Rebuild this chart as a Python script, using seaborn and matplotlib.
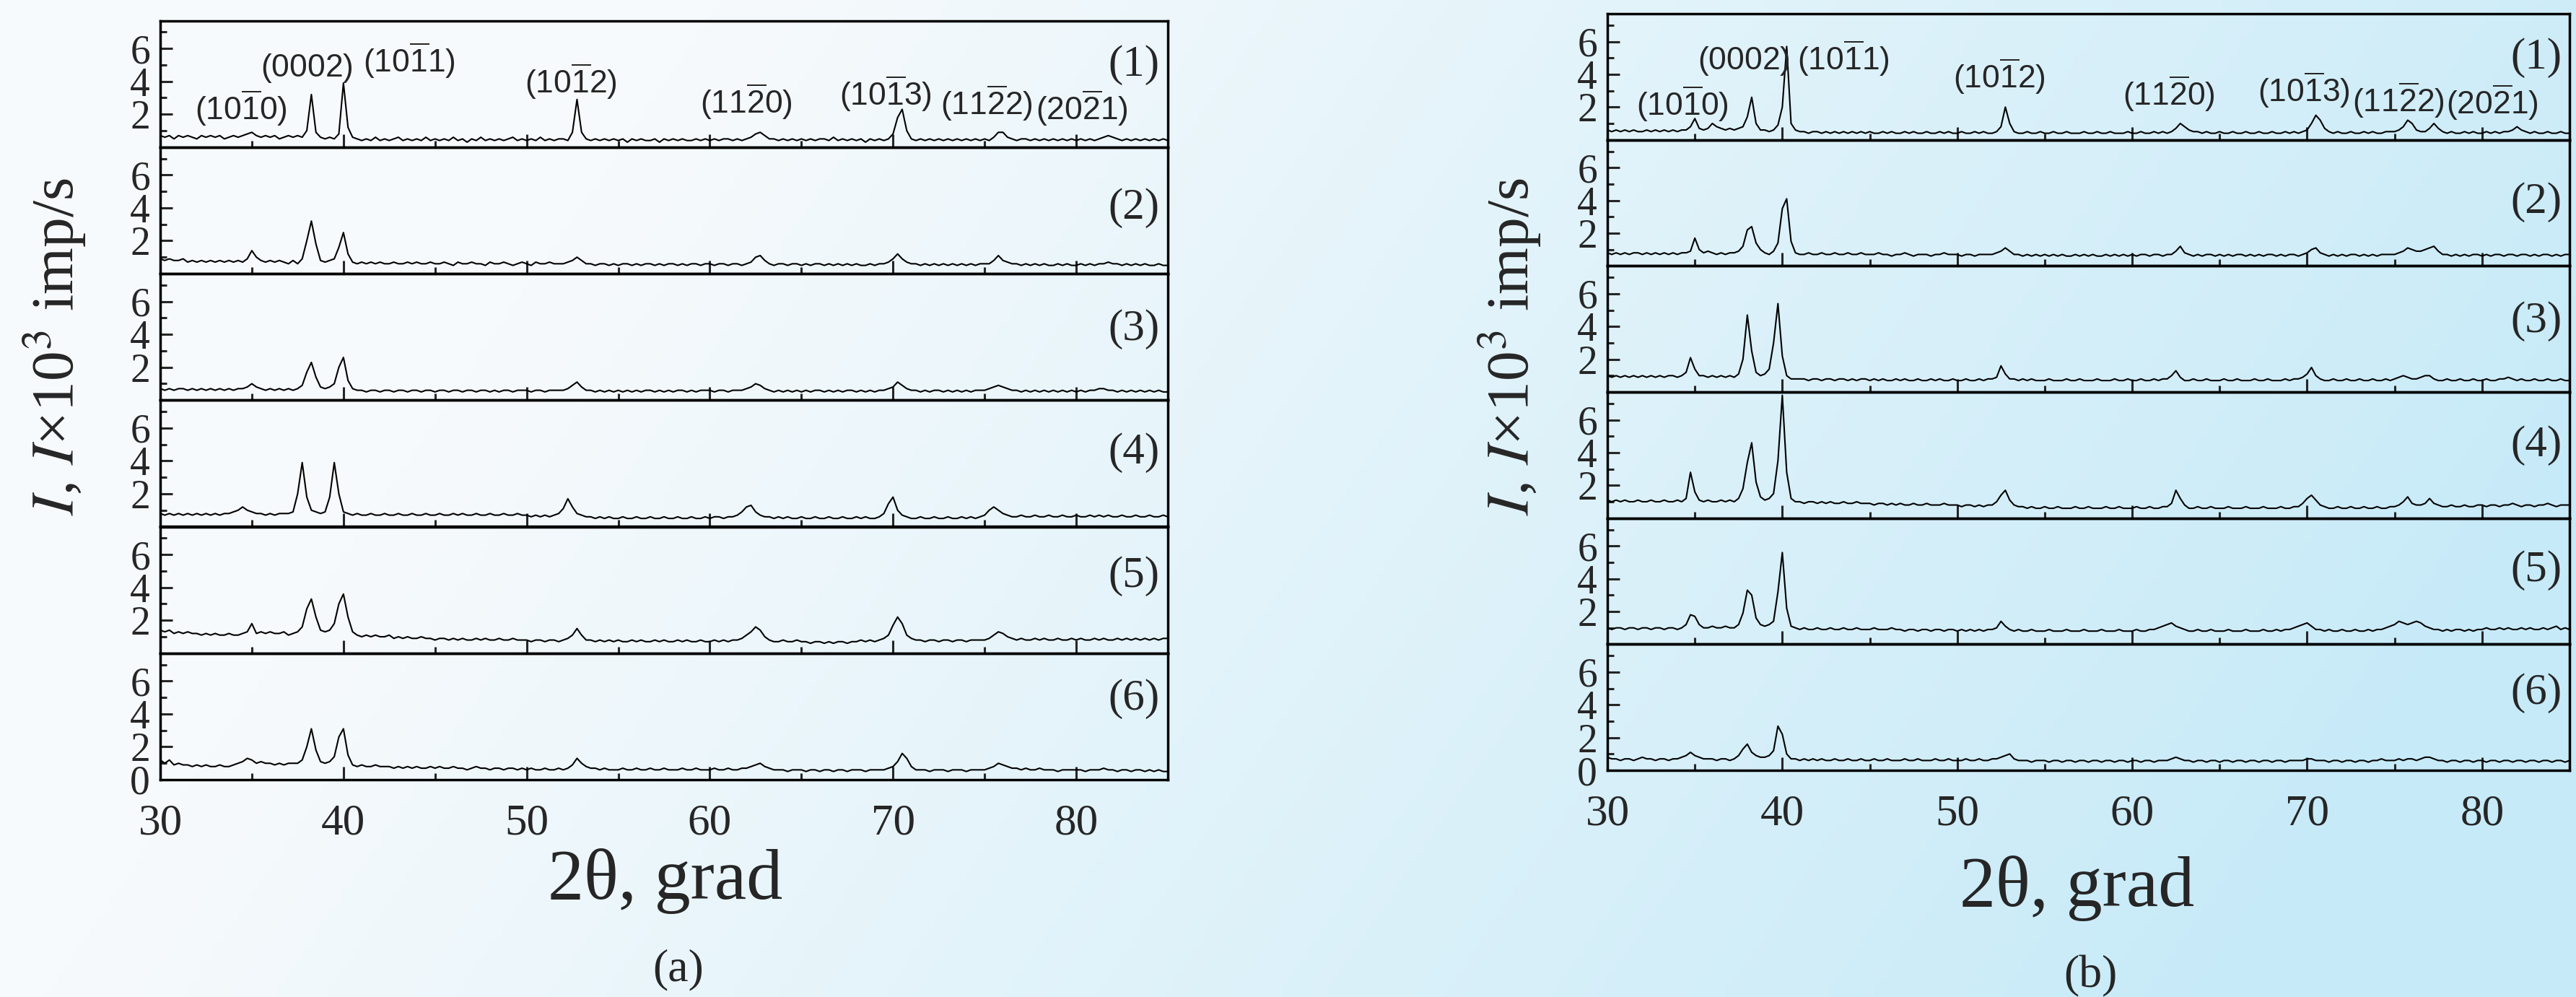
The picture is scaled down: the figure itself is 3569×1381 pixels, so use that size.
import numpy as np
import matplotlib
matplotlib.use("Agg")
import matplotlib.pyplot as plt
import seaborn as sns

# 2theta sampling grid (grad), 0.25 step from 30 to 85
two_theta = np.arange(30, 85.001, 0.25)

# intensities, in units of 0.1 x 10^3 imp/s
left_1 = [7,6,7,5,7,6,7,6,5,7,6,7,6,7,5,6,7,6,7,8,
          9,7,6,7,6,7,5,6,7,6,7,6,10,32,9,6,5,6,5,8,
          39,12,6,5,4,5,4,6,4,5,4,5,6,4,5,4,5,4,6,4,
          5,4,5,4,6,4,5,3,5,4,6,4,5,4,5,4,5,6,4,5,
          4,5,4,6,4,5,4,5,5,4,9,29,9,5,4,5,4,5,4,5,
          4,5,3,5,4,5,4,4,5,3,5,4,5,4,5,4,4,5,4,5,
          4,5,4,5,5,4,5,4,5,6,8,9,7,5,5,4,5,4,5,4,
          5,4,5,4,5,5,4,6,4,5,4,5,4,5,3,5,4,5,4,5,
          8,18,23,10,5,4,5,4,5,4,5,4,5,4,5,4,5,4,5,4,
          5,4,6,9,9,6,5,4,5,5,4,5,4,5,4,5,4,5,4,5,
          4,5,4,5,4,5,6,7,6,5,4,5,4,5,4,5,4,5,4,5,
          4]
left_2 = [9,8,9,8,8,9,7,8,7,8,7,8,7,8,7,8,7,8,7,9,
          14,10,8,7,8,7,8,7,6,8,6,9,20,32,18,8,7,8,9,16,
          25,12,7,6,7,6,7,6,7,6,6,7,6,6,7,6,7,6,6,7,
          6,6,7,6,5,7,6,6,7,6,6,5,7,6,6,7,6,5,6,7,
          6,5,7,6,6,7,6,6,6,7,8,10,8,6,6,5,6,6,5,6,
          5,6,6,5,6,5,6,6,5,6,5,6,6,5,6,5,6,6,5,6,
          6,5,6,6,5,6,6,5,6,7,10,11,8,6,5,6,6,5,6,6,
          5,6,5,6,6,5,6,5,6,5,6,5,6,5,5,6,5,6,6,7,
          9,12,9,7,6,6,5,6,5,6,5,6,5,6,5,6,5,6,5,6,
          6,6,8,11,8,7,6,6,5,6,5,6,5,6,5,5,6,5,6,5,
          5,6,5,6,5,6,6,7,6,6,5,6,5,6,5,6,5,5,6,5,
          5]
left_3 = [7,6,7,6,7,7,6,7,6,7,6,7,6,7,6,7,6,7,7,8,
          10,8,7,6,7,6,7,6,7,6,7,9,17,23,14,8,7,8,10,20,
          26,12,7,6,6,5,6,6,5,6,6,5,6,6,5,6,6,5,6,6,
          5,6,6,5,6,6,5,6,6,5,6,6,5,6,5,6,6,5,6,6,
          6,5,6,6,5,6,6,6,6,7,9,11,8,6,6,5,6,5,6,5,
          6,5,6,5,6,5,6,6,5,6,5,6,5,6,6,5,6,5,6,6,
          6,5,6,6,5,6,6,6,7,8,10,9,7,6,5,6,5,6,5,6,
          5,6,5,6,6,5,6,5,6,5,6,6,5,6,5,6,5,6,6,7,
          8,11,9,7,6,6,5,6,5,6,6,5,6,5,6,5,6,5,6,6,
          6,7,8,9,8,7,6,6,5,6,5,6,5,6,5,6,5,6,5,6,
          5,6,5,6,6,7,7,6,6,5,6,5,6,5,6,5,6,5,6,5,
          5]
left_4 = [8,7,8,7,8,7,8,7,8,7,8,7,8,7,8,8,9,10,12,10,
          9,8,8,7,8,7,8,8,8,9,20,39,18,10,9,8,9,18,39,20,
          9,8,7,8,7,7,8,7,7,8,7,7,8,7,7,8,7,7,8,7,
          7,8,7,7,8,7,8,7,7,8,7,7,8,7,7,8,7,7,8,7,
          7,6,7,6,7,6,7,8,11,17,12,8,7,6,6,5,6,5,6,5,
          5,6,5,5,6,5,5,6,5,5,6,5,5,6,5,5,6,5,5,6,
          5,6,6,5,6,6,7,9,12,13,9,7,6,6,5,6,5,6,5,5,
          6,5,5,6,5,5,6,5,5,6,5,5,6,5,6,5,5,6,8,14,
          18,10,7,6,5,5,6,5,5,6,5,5,6,5,5,6,5,6,5,6,
          7,10,12,10,8,7,6,6,7,6,6,7,6,6,7,6,6,7,6,6,
          7,6,6,7,6,7,6,7,6,6,7,6,6,7,6,6,7,6,6,7,
          6]
left_5 = [14,13,14,12,13,12,13,12,12,11,12,11,12,11,11,12,11,11,12,13,
          18,12,13,12,13,12,12,13,11,12,13,16,27,33,22,14,13,14,18,30,
          36,22,13,11,10,11,10,11,10,10,11,9,10,9,10,9,9,10,9,9,
          8,9,9,8,9,8,9,8,8,9,8,9,8,8,9,8,8,9,8,8,
          8,7,8,8,7,8,8,7,8,9,11,15,11,8,8,7,8,7,8,7,
          8,7,7,8,7,8,7,7,8,7,8,7,7,8,7,8,7,7,8,7,
          7,8,7,8,7,8,8,9,11,13,16,14,10,8,7,7,8,7,7,8,
          7,7,6,7,7,6,7,6,7,7,6,7,7,8,7,8,7,8,9,11,
          17,22,18,11,9,8,8,7,8,8,7,8,8,7,8,8,7,8,8,8,
          8,9,11,13,12,10,9,8,9,8,8,9,8,9,8,8,9,8,8,9,
          8,9,8,8,9,8,9,8,8,9,8,9,8,9,8,9,8,9,8,9,
          9]
left_6 = [12,10,12,9,10,9,9,8,9,8,9,8,8,9,8,8,9,10,11,13,
          12,10,11,10,10,9,10,9,10,10,10,12,20,31,18,11,10,11,14,26,
          31,15,9,8,9,8,8,9,8,8,8,7,8,7,8,7,8,7,7,8,
          7,8,7,7,8,7,7,6,7,8,7,7,6,7,7,6,7,7,6,7,
          6,7,6,6,7,6,6,7,6,7,9,13,10,8,7,7,6,7,6,6,
          6,7,6,6,7,6,6,7,6,6,7,6,6,6,7,6,6,7,6,6,
          6,7,6,6,7,6,6,7,7,8,9,10,8,7,6,6,6,5,6,6,
          6,5,6,6,5,6,6,5,6,6,5,6,6,6,5,6,6,6,6,7,
          8,11,16,13,8,6,6,6,5,6,6,6,5,6,6,6,5,6,6,6,
          6,7,8,10,9,8,7,7,6,7,6,6,7,6,6,6,5,6,6,6,
          6,6,5,6,6,6,7,6,6,5,6,6,5,6,6,5,6,5,6,5,
          5]

right_1 = [6,5,6,5,6,5,6,5,5,6,5,6,5,6,5,6,5,6,6,8,
           13,7,6,7,10,8,7,6,7,6,7,8,14,26,10,6,6,5,6,9,
           20,57,10,6,5,5,4,5,5,4,5,4,5,4,5,4,5,4,5,4,
           5,4,4,5,4,5,4,4,5,4,5,4,4,5,4,4,5,4,5,4,
           4,5,4,4,5,4,5,4,4,5,8,20,10,5,4,4,5,4,4,5,
           4,4,5,4,4,5,4,4,4,5,4,4,5,4,4,5,4,4,4,5,
           4,4,5,4,4,5,4,5,4,5,7,10,8,6,5,5,4,5,4,4,
           5,4,4,5,4,4,5,4,4,5,4,4,5,4,4,5,4,5,4,5,
           6,10,15,12,7,5,4,5,4,4,5,4,4,5,4,5,4,4,5,5,
           5,6,8,12,10,6,5,5,7,10,7,5,4,5,4,4,5,4,5,4,
           4,5,4,5,4,5,5,6,8,6,5,4,5,4,4,5,4,4,5,4,
           4]
right_2 = [8,7,8,7,8,7,8,8,7,8,7,8,7,8,7,8,7,8,8,9,
           17,10,8,9,8,7,8,7,8,8,9,12,22,24,14,10,8,7,9,14,
           35,41,15,8,7,7,8,7,7,8,7,7,8,7,7,8,7,7,8,7,
           7,7,8,7,7,6,7,7,8,7,6,7,7,7,6,7,7,8,7,7,
           7,6,7,7,6,7,7,7,7,8,9,11,9,7,7,6,7,6,7,6,
           7,6,7,6,7,6,6,7,6,7,6,7,6,6,7,6,7,6,7,6,
           7,6,7,7,6,7,7,6,7,7,9,12,8,7,6,7,6,7,7,6,
           7,6,7,6,7,7,6,7,6,7,6,7,7,6,7,6,7,7,6,7,
           8,10,11,8,7,6,7,6,7,6,7,7,6,7,6,7,6,7,7,7,
           7,8,9,11,10,9,9,10,11,12,9,7,7,6,7,6,7,6,7,7,
           6,7,6,7,7,6,7,7,6,7,7,6,7,6,7,7,6,7,6,7,
           7]
right_3 = [10,9,10,9,10,9,10,9,10,9,10,9,10,9,10,10,9,10,12,21,
           14,10,10,9,10,9,10,9,10,9,11,20,47,25,12,10,11,14,30,54,
           22,10,8,8,8,8,7,8,8,7,8,8,7,8,8,7,8,7,8,8,
           7,8,7,8,7,7,8,7,8,7,7,8,7,7,8,7,8,7,7,8,
           7,7,8,7,7,8,7,8,8,9,16,11,8,8,7,8,7,8,7,7,
           7,8,7,7,7,8,7,7,8,7,7,7,8,7,7,7,8,7,7,8,
           7,7,8,7,7,8,7,8,8,10,13,9,7,7,8,7,7,8,7,7,
           7,8,7,7,8,7,7,7,8,7,7,8,7,7,7,8,7,8,8,9,
           11,15,10,8,7,7,8,7,7,8,7,7,8,7,7,8,7,7,8,7,
           8,9,10,9,8,8,9,10,10,8,7,7,8,7,7,8,7,7,8,7,
           7,8,7,7,8,8,9,8,7,8,7,7,8,7,7,8,7,7,8,7,
           7]
right_4 = [11,10,11,10,11,10,10,11,10,10,11,10,10,11,10,10,11,10,12,28,
           16,11,10,11,10,10,11,10,11,10,12,18,34,46,22,13,11,12,15,35,
           75,28,12,10,10,9,10,10,9,10,9,10,9,9,10,9,9,10,9,9,
           9,8,9,9,8,9,8,9,8,8,9,8,8,9,8,8,8,9,8,8,
           8,7,8,8,7,8,7,8,8,10,14,17,11,8,7,7,6,7,6,6,
           7,6,6,7,6,6,6,7,6,6,7,6,6,6,7,6,6,7,6,6,
           6,7,6,6,7,6,6,7,7,9,17,12,8,6,6,7,6,6,7,6,
           6,6,7,6,6,6,7,6,6,6,7,6,6,6,7,6,6,7,7,9,
           12,14,11,8,7,6,6,7,6,6,7,6,6,7,6,6,7,6,6,7,
           7,8,10,13,9,8,8,9,12,9,8,7,7,8,7,7,8,7,7,8,
           8,7,8,8,7,8,8,9,8,7,8,8,7,8,8,9,8,7,8,8,
           8]
right_5 = [10,9,10,10,9,10,10,9,10,10,9,10,10,9,10,10,9,10,12,18,
           17,12,10,10,11,10,10,11,10,10,12,19,33,30,16,12,11,12,14,32,
           56,22,11,10,9,10,9,9,10,9,9,10,9,9,10,9,9,10,9,9,
           9,10,9,9,9,10,9,9,8,9,9,8,9,9,8,9,9,8,9,9,
           8,9,8,9,8,9,8,9,9,10,14,11,9,8,9,8,8,9,8,8,
           8,9,8,8,8,9,8,8,8,9,8,8,8,9,8,8,8,9,8,8,
           8,9,8,8,9,9,10,11,12,13,11,10,9,8,8,9,8,8,9,8,
           8,8,9,8,8,8,9,8,8,8,9,8,8,9,8,9,9,10,11,12,
           13,11,9,9,8,9,8,8,9,8,8,9,8,8,9,8,9,9,10,11,
           12,14,13,12,13,14,13,11,10,9,9,8,9,8,9,9,8,9,8,9,
           9,10,9,9,10,9,10,9,9,10,9,10,9,9,10,9,10,11,9,10,
           9]
right_6 = [8,7,7,6,7,7,6,7,8,7,7,6,7,7,6,7,7,8,9,11,
           9,8,7,7,7,6,7,7,6,7,9,13,16,11,9,8,8,9,12,27,
           22,10,7,7,6,7,6,7,6,7,6,6,7,6,6,7,6,6,7,6,
           6,7,6,6,7,6,6,6,7,6,6,7,6,6,6,7,6,6,7,6,
           6,6,7,6,6,7,6,6,7,7,8,9,10,7,6,6,6,5,6,6,
           6,5,6,6,5,6,6,5,6,6,5,6,6,5,6,6,5,6,6,5,
           6,6,5,6,6,5,6,6,6,7,8,7,6,6,5,6,6,5,6,6,
           5,6,6,5,6,6,5,6,6,5,6,6,5,6,6,5,6,6,6,6,
           7,7,6,6,6,5,6,6,5,6,6,5,6,6,5,6,6,7,6,6,
           6,7,6,7,7,6,7,8,8,7,6,6,5,6,6,5,6,6,5,6,
           6,5,6,6,5,6,6,5,6,6,5,6,6,5,6,6,5,6,6,5,
           6]

left_traces = [left_1, left_2, left_3, left_4, left_5, left_6]
right_traces = [right_1, right_2, right_3, right_4, right_5, right_6]
curve_names = ["(1)", "(2)", "(3)", "(4)", "(5)", "(6)"]

peak_names = [r"$(10\overline{1}0)$", r"$(0002)$", r"$(10\overline{1}1)$",
              r"$(10\overline{1}2)$", r"$(11\overline{2}0)$", r"$(10\overline{1}3)$",
              r"$(11\overline{2}2)$", r"$(20\overline{2}1)$"]
left_peak_x = [34.4, 38.0, 43.6, 52.4, 62.0, 69.6, 75.1, 80.3]
left_peak_y = [2.37, 4.8, 5.3, 4.0, 2.8, 3.25, 2.67, 2.37]
right_peak_x = [34.3, 37.8, 43.5, 52.4, 62.1, 69.8, 75.2, 80.6]
right_peak_y = [2.2, 4.8, 5.0, 3.9, 2.85, 3.05, 2.45, 2.3]
left_name_y = [5.0, 4.0, 4.3, 4.5, 4.7, 4.9]
right_name_y = [5.0, 3.9, 4.3, 4.45, 4.5, 4.7]

sns.set_style("ticks")
plt.rcParams["font.family"] = ["Liberation Serif", "DejaVu Serif"]
plt.rcParams["mathtext.fontset"] = "custom"
plt.rcParams["mathtext.rm"] = "Liberation Sans"
plt.rcParams["mathtext.it"] = "Liberation Sans:italic"
plt.rcParams["mathtext.bf"] = "Liberation Sans:bold"

W, H = 3569, 1381
fig = plt.figure(figsize=(W / 100, H / 100), dpi=100)

# soft white-to-light-blue background, whiter on the left
bg = fig.add_axes([0, 0, 1, 1], zorder=-10)
gx, gy = np.meshgrid(np.linspace(0, 1, 400), np.linspace(0, 1, 160))
t = np.clip(1.15 * gx + 0.3 * gy - 0.32, 0, 1)
c0 = np.array([247, 250, 252]) / 255
c1 = np.array([198, 234, 248]) / 255
bg.imshow(c0 + (c1 - c0) * t[..., None], aspect="auto", extent=[0, 1, 0, 1], origin="upper")
bg.axis("off")


def draw_block(traces, x0, x1, top, bottom, peak_x, peak_y, name_y):
    ph = (bottom - top) / 6
    for i, vals in enumerate(traces):
        y_top = top + i * ph
        ax = fig.add_axes([x0 / W, 1 - (y_top + ph) / H, (x1 - x0) / W, ph / H])
        ax.set_facecolor("none")
        y = np.array(vals) / 10.0
        sns.lineplot(x=two_theta, y=y, ax=ax, color="black", linewidth=1.5)
        ax.set_xlim(30, 85)
        ax.set_ylim(0, 7.7)
        ax.set_xlabel("")
        ax.set_ylabel("")
        ax.set_xticks([30, 40, 50, 60, 70, 80])
        ax.set_xticks([35, 45, 55, 65, 75], minor=True)
        ax.set_yticks([0, 2, 4, 6] if i == 5 else [2, 4, 6])
        ax.set_yticks([1, 3, 5, 7], minor=True)
        ax.tick_params(axis="x", which="major", direction="in", length=13, width=2.2,
                       labelsize=44, pad=24, labelbottom=(i == 5))
        ax.tick_params(axis="x", which="minor", direction="in", length=6.5, width=2.2)
        ax.tick_params(axis="y", which="major", direction="in", length=12, width=2.2,
                       labelsize=40, pad=10)
        ax.tick_params(axis="y", which="minor", direction="in", length=6.5, width=2.2)
        for s in ax.spines.values():
            s.set_linewidth(2.5)
            s.set_color("black")
        ax.text(84.55, name_y[i], curve_names[i], ha="right", va="center", fontsize=44)
        if i == 0:
            for lab, px, py in zip(peak_names, peak_x, peak_y):
                ax.text(px, py, lab, ha="center", va="center", fontsize=32)


draw_block(left_traces, 222, 1618, 28.5, 1080, left_peak_x, left_peak_y, left_name_y)
draw_block(right_traces, 2227, 3560, 19, 1067, right_peak_x, right_peak_y, right_name_y)

ylab = r"$I$, $I$×10$^3$ imp/s"
fig.text(77 / W, 1 - 480 / H, ylab, rotation=90, ha="center", va="center",
         fontsize=60, math_fontfamily="stix")
fig.text(2093 / W, 1 - 480 / H, ylab, rotation=90, ha="center", va="center",
         fontsize=60, math_fontfamily="stix")
fig.text(922 / W, 1 - 1220 / H, "2θ, grad", ha="center", va="center", fontsize=72)
fig.text(2878 / W, 1 - 1230 / H, "2θ, grad", ha="center", va="center", fontsize=72)
fig.text(940 / W, 1 - 1343 / H, "(a)", ha="center", va="center", fontsize=46)
fig.text(2896 / W, 1 - 1352 / H, "(b)", ha="center", va="center", fontsize=46)

fig.savefig("out.png", dpi=100)
